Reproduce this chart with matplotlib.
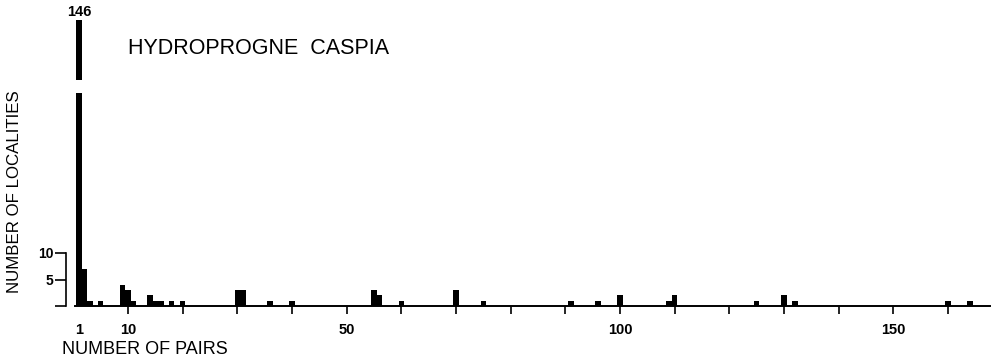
import matplotlib
matplotlib.use("Agg")
import matplotlib.pyplot as plt

plt.rcParams['font.family'] = ['Liberation Sans', 'DejaVu Sans']

# Data
pairs = [1, 2, 3, 5, 9, 10, 11, 14, 15, 16, 18, 20, 30, 31, 36, 40,
         55, 56, 60, 70, 75, 91, 96, 100, 109, 110, 125, 130, 132, 160, 164]
localities = [146, 7, 1, 1, 4, 3, 1, 2, 1, 1, 1, 1, 3, 3, 1, 1,
              3, 2, 1, 3, 1, 1, 1, 2, 1, 2, 1, 2, 1, 1, 1]
xtick_positions = [1, 10, 50, 100, 150]
xtick_labels = ["1", "10", "50", "100", "150"]
ytick_positions = [0, 5, 10]
ytick_labels = ["", "5", "10"]
title = "HYDROPROGNE  CASPIA"

W, H = 997, 363
fig = plt.figure(figsize=(W / 100, H / 100), dpi=100)

xl, xr = -1.35, 167.7
ax_left_px, ax_right_px = 66, 990
base_px, low_top_px = 306, 93
up_bot_px, up_top_px = 80, 20
ppu_y = 5.3

ax = fig.add_axes([ax_left_px / W, 1 - base_px / H,
                   (ax_right_px - ax_left_px) / W, (base_px - low_top_px) / H])
ax.bar(pairs, localities, width=1.0, color='black', align='center')
ax.set_xlim(xl, xr)
ax.set_ylim(0, (base_px - low_top_px) / ppu_y)

for s in ['top', 'right']:
    ax.spines[s].set_visible(False)
ax.spines['bottom'].set_bounds(0.3, xr)
ax.spines['left'].set_bounds(0, 10)
ax.spines['bottom'].set_linewidth(1.4)
ax.spines['left'].set_linewidth(1.2)

ax.set_xticks(list(range(10, 170, 10)))
ax.set_xticklabels([])
ax.tick_params(axis='x', direction='out', length=6, width=1.2)
ax.set_yticks(ytick_positions)
ax.set_yticklabels(ytick_labels, fontsize=10, fontweight='bold')
ax.tick_params(axis='y', direction='out', length=8, width=1.2, pad=1)

for xp, lab in zip(xtick_positions, xtick_labels):
    ax.annotate(lab, xy=(xp, 0), xycoords=('data', 'axes fraction'),
                xytext=(0, -17), textcoords='offset points',
                ha='center', va='center', fontsize=10.5, fontweight='bold')

# upper broken part
ax2 = fig.add_axes([ax_left_px / W, 1 - up_bot_px / H,
                    (ax_right_px - ax_left_px) / W, (up_bot_px - up_top_px) / H])
ax2.bar(pairs, localities, width=1.0, color='black', align='center')
ax2.set_xlim(xl, xr)
ax2.set_ylim(max(localities) - (up_bot_px - up_top_px) / ppu_y, max(localities))
ax2.axis('off')
ax2.annotate(str(max(localities)), xy=(pairs[0], max(localities)), xycoords='data',
             xytext=(0, 6), textcoords='offset points',
             ha='center', va='center', fontsize=10.5, fontweight='bold')

fig.text(128 / W, 1 - 48 / H, title, fontsize=15.5, ha='left', va='center')
fig.text(15 / W, 1 - 192 / H, "NUMBER OF LOCALITIES", rotation=90,
         fontsize=12.2, ha='center', va='center')
fig.text(62 / W, 1 - 350 / H, "NUMBER OF PAIRS", fontsize=13,
         ha='left', va='center')

fig.savefig("out.png", dpi=100)
